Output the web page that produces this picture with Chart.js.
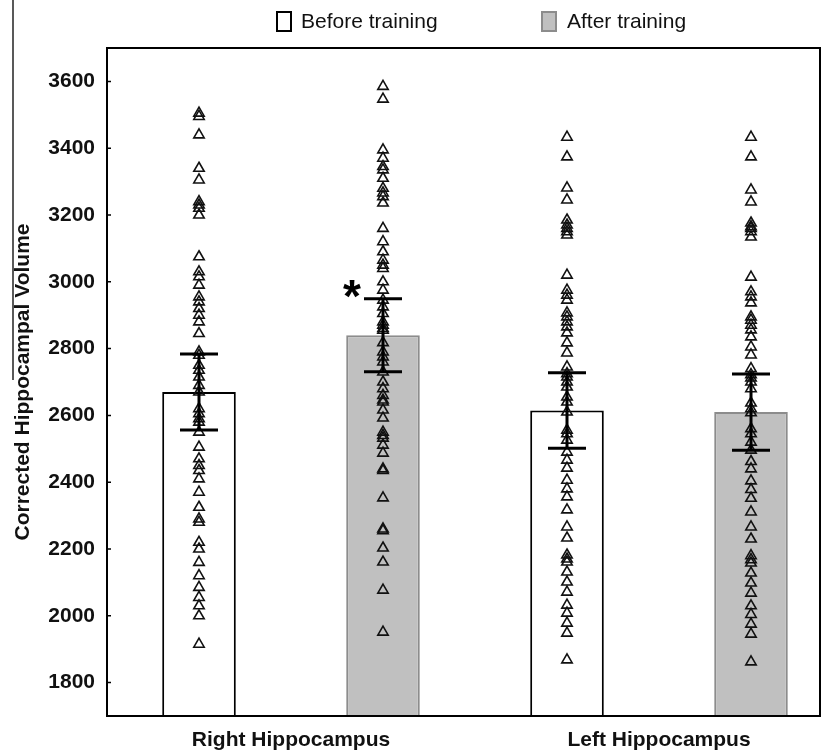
<!DOCTYPE html>
<html>
<head>
<meta charset="utf-8">
<script src="https://cdn.jsdelivr.net/npm/chart.js@4.4.0/dist/chart.umd.min.js"></script>
<style>
  html, body { margin: 0; padding: 0; background: #fff; }
</style>
</head>
<body>
<canvas id="chart" width="832" height="754"></canvas>
<script>
const groups = ["Right Hippocampus", "Left Hippocampus"];
const seriesNames = ["Before training", "After training"];
const beforeMeans = [2670, 2615];
const afterMeans = [2840, 2610];
const beforeSE = [114, 113];
const afterSE = [109, 114];
const yTicks = [1800, 2000, 2200, 2400, 2600, 2800, 3000, 3200, 3400, 3600];

// individual subjects (triangles)
const rightBefore = [3505, 3495, 3440, 3340, 3305, 3240, 3230, 3220, 3200, 3075, 3030, 3015, 2990,
  2955, 2940, 2920, 2900, 2880, 2845, 2790, 2780, 2750, 2735, 2715, 2690, 2670, 2620, 2605, 2590,
  2580, 2550, 2505, 2470, 2450, 2435, 2410, 2370, 2325, 2290, 2280, 2220, 2200, 2160, 2120, 2085,
  2055, 2030, 2000, 1915];
const rightAfter = [3585, 3547, 3395, 3370, 3345, 3335, 3310, 3280, 3266, 3255, 3236, 3160, 3120,
  3090, 3065, 3050, 3040, 3000, 2975, 2945, 2925, 2905, 2880, 2870, 2860, 2855, 2818, 2790, 2775,
  2760, 2730, 2700, 2680, 2660, 2646, 2640, 2616, 2592, 2550, 2540, 2532, 2511, 2487, 2440, 2435,
  2353, 2260, 2255, 2203, 2161, 2077, 1951];
const leftBefore = [3433, 3374, 3281, 3245, 3185, 3170, 3160, 3150, 3140, 3020, 2975, 2960, 2945,
  2907, 2895, 2880, 2865, 2847, 2817, 2787, 2745, 2725, 2715, 2700, 2685, 2655, 2640, 2610, 2556,
  2545, 2526, 2490, 2466, 2442, 2406, 2380, 2356, 2317, 2266, 2233, 2182, 2170, 2161, 2131, 2101,
  2071, 2032, 2008, 1978, 1948, 1868];
const leftAfter = [3433, 3374, 3275, 3239, 3176, 3165, 3160, 3150, 3134, 3014, 2970, 2955, 2937,
  2895, 2885, 2870, 2856, 2835, 2805, 2781, 2740, 2722, 2712, 2700, 2680, 2637, 2620, 2608, 2560,
  2545, 2520, 2496, 2462, 2440, 2404, 2378, 2352, 2311, 2266, 2230, 2180, 2168, 2158, 2128, 2098,
  2068, 2030, 2004, 1975, 1945, 1862];

const FONT = "'Liberation Sans', Arial, Helvetica, sans-serif";
const ctx = document.getElementById("chart").getContext("2d");

function scatterSet(values, xPos) {
  return {
    type: "scatter",
    data: values.map((v) => ({ x: xPos, y: v })),
    pointStyle: "triangle",
    pointRadius: 6,
    pointHoverRadius: 6,
    pointBorderColor: "#111",
    pointBorderWidth: 1.6,
    pointBackgroundColor: "rgba(0,0,0,0)",
    order: 1,
  };
}

// frame, inward y ticks, error bars, asterisk, legend
const extras = {
  id: "extras",
  afterDatasetsDraw(chart) {
    const c = chart.ctx;
    const xs = chart.scales.x;
    const ys = chart.scales.y;
    const a = chart.chartArea;
    c.save();

    // error bars
    c.strokeStyle = "#000";
    c.lineWidth = 3;
    const bars = [];
    beforeMeans.forEach((m, i) => bars.push({ x: 2 * i + 1, m: m, se: beforeSE[i] }));
    afterMeans.forEach((m, i) => bars.push({ x: 2 * i + 2, m: m, se: afterSE[i] }));
    bars.forEach((b) => {
      const px = xs.getPixelForValue(b.x);
      const top = ys.getPixelForValue(b.m + b.se);
      const bot = ys.getPixelForValue(b.m - b.se);
      c.beginPath();
      c.moveTo(px, top); c.lineTo(px, bot);
      c.moveTo(px - 19, top); c.lineTo(px + 19, top);
      c.moveTo(px - 19, bot); c.lineTo(px + 19, bot);
      c.stroke();
    });

    // significance star on right hippocampus after training
    const sx = xs.getPixelForValue(2) - 31;
    const sy = ys.getPixelForValue(afterMeans[0] + afterSE[0]) - 13;
    c.fillStyle = "#000";
    c.font = "bold 46px " + FONT;
    c.textAlign = "center";
    c.textBaseline = "alphabetic";
    c.fillText("*", sx, sy + 0.57 * 46);

    // frame
    c.lineWidth = 2;
    c.strokeStyle = "#000";
    c.strokeRect(a.left, a.top, a.right - a.left, a.bottom - a.top);

    // inward tick marks
    c.lineWidth = 1.5;
    c.beginPath();
    yTicks.forEach((v) => {
      const py = ys.getPixelForValue(v);
      c.moveTo(a.left, py); c.lineTo(a.left + 4, py);
    });
    c.stroke();
    c.restore();
  },
  afterDraw(chart) {
    const c = chart.ctx;
    c.save();
    // legend
    c.lineWidth = 2;
    c.fillStyle = "#fff";
    c.strokeStyle = "#000";
    c.fillRect(277, 12, 14, 19);
    c.strokeRect(277, 12, 14, 19);
    c.fillStyle = "#c0c0c0";
    c.strokeStyle = "#8c8c8c";
    c.fillRect(542, 12, 14, 19);
    c.strokeRect(542, 12, 14, 19);
    c.fillStyle = "#111";
    c.font = "21px " + FONT;
    c.textAlign = "left";
    c.textBaseline = "middle";
    c.fillText(seriesNames[0], 301, 22);
    c.fillText(seriesNames[1], 567, 22);
    // stray crop line at the left edge
    c.strokeStyle = "#222";
    c.lineWidth = 1.5;
    c.beginPath();
    c.moveTo(13, 0); c.lineTo(13, 380);
    c.stroke();
    c.restore();
  },
};

const chart = new Chart(ctx, {
  type: "bar",
  data: {
    datasets: [
      {
        type: "bar",
        label: seriesNames[0],
        data: beforeMeans.map((v, i) => ({ x: 2 * i + 1, y: v })),
        backgroundColor: "#ffffff",
        borderColor: "#000",
        borderWidth: 2,
        borderSkipped: false,
        grouped: false,
        barPercentage: 0.4,
        categoryPercentage: 1,
        order: 3,
      },
      {
        type: "bar",
        label: seriesNames[1],
        data: afterMeans.map((v, i) => ({ x: 2 * i + 2, y: v })),
        backgroundColor: "#c0c0c0",
        borderColor: "#8c8c8c",
        borderWidth: 2,
        borderSkipped: false,
        grouped: false,
        barPercentage: 0.4,
        categoryPercentage: 1,
        order: 3,
      },
      scatterSet(rightBefore, 1),
      scatterSet(rightAfter, 2),
      scatterSet(leftBefore, 3),
      scatterSet(leftAfter, 4),
    ],
  },
  options: {
    responsive: false,
    animation: false,
    layout: { padding: { top: 48, right: 12, bottom: 0, left: 0 } },
    plugins: { legend: { display: false }, tooltip: { enabled: false } },
    scales: {
      x: {
        type: "linear",
        offset: false,
        min: 0.5,
        max: 4.375,
        grid: { display: false, drawTicks: false },
        border: { display: false },
        afterBuildTicks: (s) => { s.ticks = [{ value: 1.5 }, { value: 3.5 }]; },
        afterFit: (s) => { s.height = 38; },
        ticks: {
          autoSkip: false,
          maxRotation: 0,
          padding: 12,
          color: "#111",
          font: { family: FONT, size: 21, weight: "bold" },
          callback: (v) => (v === 1.5 ? groups[0] : v === 3.5 ? groups[1] : ""),
        },
      },
      y: {
        min: 1700,
        max: 3700,
        grid: { display: false, drawTicks: false },
        border: { display: false },
        afterBuildTicks: (s) => { s.ticks = yTicks.map((v) => ({ value: v })); },
        afterFit: (s) => { s.width = 107; },
        ticks: {
          padding: 12,
          color: "#111",
          font: { family: FONT, size: 21, weight: "bold" },
          callback: (v) => String(v),
        },
        title: {
          display: true,
          text: "Corrected Hippocampal Volume",
          color: "#111",
          font: { family: FONT, size: 21, weight: "bold" },
          padding: { top: 11, bottom: 0 },
        },
      },
    },
  },
  plugins: [extras],
});
</script>
</body>
</html>
